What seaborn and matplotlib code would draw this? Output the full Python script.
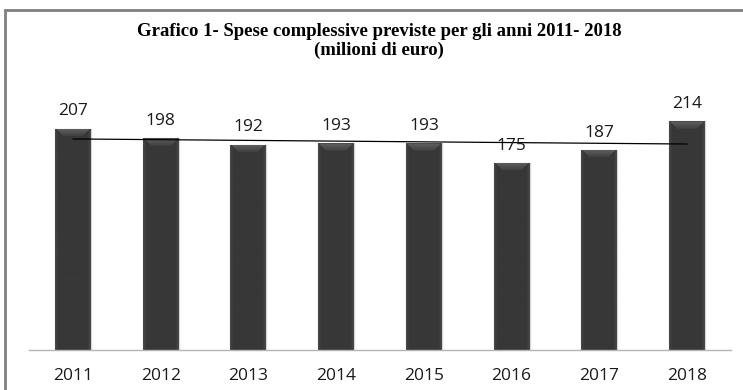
import matplotlib
matplotlib.use("Agg")
import matplotlib.pyplot as plt
from matplotlib.patches import Rectangle
import numpy as np
import pandas as pd
import seaborn as sns

years = ["2011", "2012", "2013", "2014", "2015", "2016", "2017", "2018"]
spese = [207, 198, 192, 193, 193, 175, 187, 214]
title = "Grafico 1- Spese complessive previste per gli anni 2011- 2018\n(milioni di euro)"

df = pd.DataFrame({"anno": years, "spese": spese})

sns.set_theme(style="white")
plt.rcParams["font.family"] = ["Open Sans", "DejaVu Sans"]

W, H = 743, 390
PX_PER_UNIT = 1.07
fig = plt.figure(figsize=(W / 100, H / 100), dpi=100)
ax = fig.add_axes([29 / W, 1 - 350 / H, 702 / W, 240 * PX_PER_UNIT / H])

sns.barplot(data=df, x="anno", y="spese", color="#393939", width=0.41,
            saturation=1, ax=ax, zorder=2)

# soft shading inside each column: slightly lighter rim and a bevelled cap
for p in ax.patches:
    p.set_edgecolor("#d8d8d8")
    p.set_linewidth(1.0)
    x0, y0, w, h = p.get_x(), p.get_y(), p.get_width(), p.get_height()
    nrows = max(int(round(h * PX_PER_UNIT)), 10)
    ncols = 36
    cols = np.linspace(-1, 1, ncols)
    prof = 0.215 + 0.06 * np.clip(np.abs(cols) - 0.82, 0, None) / 0.18
    grad = np.tile(prof, (nrows, 1))
    cap = 8
    for r in range(cap):
        inset = r + 1
        val = 0.38 - 0.14 * r / cap
        grad[r, inset:ncols - inset] = np.maximum(grad[r, inset:ncols - inset], val)
    grad[0, :] = 0.30
    img = ax.imshow(grad, cmap="gray", vmin=0, vmax=1, aspect="auto",
                    extent=(x0, x0 + w, y0, y0 + h), zorder=2.5,
                    interpolation="bilinear")
    img.set_clip_path(p)

# linear trend across the years
xs = np.arange(len(spese))
m, q = np.polyfit(xs, spese, 1)
ax.plot(xs, m * xs + q, color="black", lw=0.9, zorder=4)

for i, v in enumerate(spese):
    ax.text(i, v + 16, str(v), ha="center", va="center", fontsize=12.5,
            color="#1a1a1a", zorder=5)

ax.set_xlim(-0.5, len(years) - 0.5)
ax.set_ylim(0, 240)
ax.set_xlabel("")
ax.set_ylabel("")
ax.set_yticks([])
for s in ["top", "right", "left"]:
    ax.spines[s].set_visible(False)
ax.spines["bottom"].set_color("#b5b5b5")
ax.spines["bottom"].set_linewidth(1)
ax.spines["bottom"].set_zorder(6)
ax.tick_params(axis="x", length=0, pad=13, labelsize=12.5, labelcolor="#1a1a1a")
ax.patch.set_alpha(0)

fig.text(379 / W, 1 - 41 / H, title, ha="center", va="center",
         fontsize=13.5, fontweight="bold", family="Liberation Serif",
         linespacing=1.08, color="black")

# outer frame
fig.patches.append(Rectangle((5 / W, -0.1), 1.2, 1 - 10 / H + 0.1,
                             transform=fig.transFigure, fill=False,
                             edgecolor="#7f7f7f", lw=2, clip_on=False))

fig.savefig("out.png", dpi=100, facecolor="white")
